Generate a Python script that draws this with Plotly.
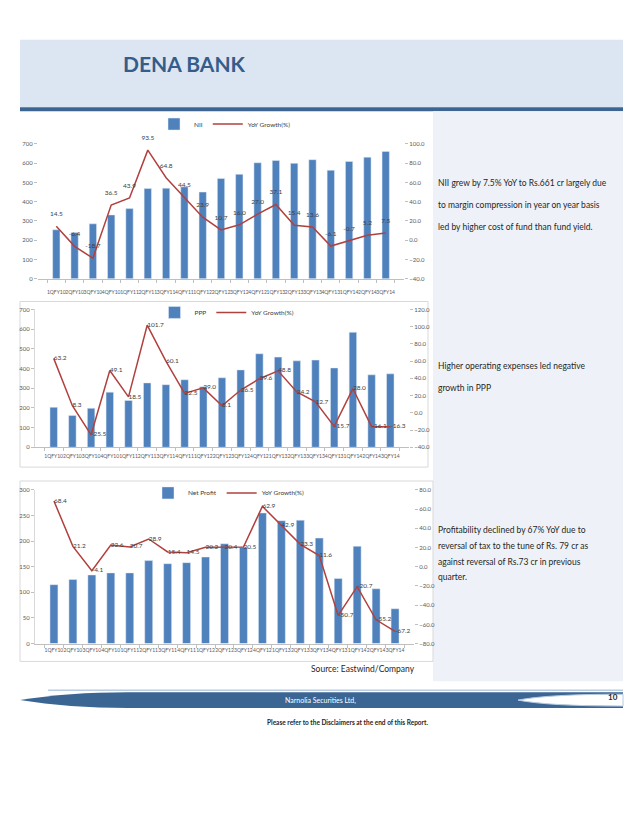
import plotly.graph_objects as go

W, H = 638, 826


def fx(x):
    return x / W


def fy(y):
    return 1 - y / H


quarters = ["1QFY10", "2QFY10", "3QFY10", "4QFY10", "1QFY11", "2QFY11", "3QFY11", "4QFY11",
            "1QFY12", "2QFY12", "3QFY12", "4QFY12", "1QFY13", "2QFY13", "3QFY13", "4QFY13",
            "1QFY14", "2QFY14", "3QFY14"]

nii = [254, 240, 285, 331, 364, 468, 470, 477, 450, 520, 542, 602, 614, 599, 618, 563, 609, 631, 661]
nii_yoy = [14.5, -6.4, -18.7, 36.5, 43.9, 93.5, 64.8, 44.5, 23.9, 10.7, 16.0, 27.0, 37.1, 15.4, 13.6,
           -6.1, -0.7, 5.2, 7.5]

ppp = [203, 162, 198, 280, 238, 327, 318, 343, 307, 353, 393, 475, 458, 439, 443, 403, 584, 368, 373]
ppp_yoy = [63.2, 8.3, -25.5, 49.1, 18.5, 101.7, 60.1, 22.5, 29.0, 8.1, 26.5, 39.6, 48.8, 24.2, 12.7,
           -15.7, 28.0, -16.1, -16.3]

net_profit = [115, 125, 134, 138, 138, 162, 156, 158, 169, 195, 188, 255, 240, 241, 206, 127, 190, 107, 68]
np_yoy = [68.4, 21.2, -4.1, 22.6, 20.7, 28.9, 15.4, 14.5, 20.2, 20.4, 20.5, 62.9, 42.9, 23.3, 11.6,
          -50.7, -20.7, -55.2, -67.2]

BAR = "#4f81bd"
LINE = "#b0413e"
CF = "Liberation Sans Narrow, Lato, sans-serif"
TF = "Lato, 'Open Sans', sans-serif"
LBL = dict(family=CF, size=6.5, color="#404040")

fig = go.Figure()

# ---- chart 1: NII
fig.add_trace(go.Bar(x=quarters, y=nii, name="NII", marker_color=BAR, width=0.4,
                     xaxis="x", yaxis="y", legend="legend"))
fig.add_trace(go.Scatter(x=quarters, y=nii_yoy, name="YoY Growth(%)", mode="lines+text",
                         line=dict(color=LINE, width=1.5), text=[f"{v:.1f}<br> " for v in nii_yoy],
                         textposition="top center", textfont=LBL, cliponaxis=False,
                         xaxis="x", yaxis="y2", legend="legend"))
# ---- chart 2: PPP
fig.add_trace(go.Bar(x=quarters, y=ppp, name="PPP", marker_color=BAR, width=0.4,
                     xaxis="x2", yaxis="y3", legend="legend2"))
fig.add_trace(go.Scatter(x=quarters, y=ppp_yoy, name="YoY Growth(%)", mode="lines+text",
                         line=dict(color=LINE, width=1.5), text=[f"{v:.1f}" for v in ppp_yoy],
                         textposition="middle right", textfont=LBL, cliponaxis=False,
                         xaxis="x2", yaxis="y4", legend="legend2"))
# ---- chart 3: Net Profit
fig.add_trace(go.Bar(x=quarters, y=net_profit, name="Net Profit", marker_color=BAR, width=0.42,
                     xaxis="x3", yaxis="y5", legend="legend3"))
fig.add_trace(go.Scatter(x=quarters, y=np_yoy, name="YoY Growth(%)", mode="lines+text",
                         line=dict(color=LINE, width=1.5), text=[f"{v:.1f}" for v in np_yoy],
                         textposition="middle right", textfont=LBL, cliponaxis=False,
                         xaxis="x3", yaxis="y6", legend="legend3"))

tickf = dict(family=CF, size=6, color="#595959")


def xax(dom, anchor, size, standoff):
    return dict(domain=dom, anchor=anchor, type="category",
                tickfont=dict(family=CF, size=size, color="#595959"),
                showline=True, linecolor="#bfbfbf", linewidth=1, ticks="outside", ticklen=3,
                tickcolor="#bfbfbf", tickson="boundaries", tickangle=0, showgrid=False,
                ticklabelstandoff=standoff, fixedrange=True)


def yl(dom, anchor, rng, dt, line=False):
    return dict(domain=dom, anchor=anchor, range=rng, dtick=dt, tickfont=tickf, showgrid=False,
                zeroline=False, ticks="outside", ticklen=3, tickcolor="#bfbfbf",
                showline=line, linecolor="#d9d9d9")


def yr(over, anchor, rng, dt):
    return dict(overlaying=over, anchor=anchor, side="right", range=rng, dtick=dt, tickformat=".1f",
                tickfont=tickf, showgrid=False, zeroline=False, ticks="outside", ticklen=3,
                tickcolor="#bfbfbf")


leg = dict(orientation="h", xanchor="center", yanchor="middle",
           font=dict(family=CF, size=6.5, color="#404040"),
           bgcolor="rgba(0,0,0,0)", itemwidth=30, tracegroupgap=0)

shapes = [
    # header band
    dict(type="rect", xref="paper", yref="paper", x0=fx(12), x1=fx(615), y0=fy(96), y1=fy(28),
         fillcolor="#dce6f2", line=dict(width=0), layer="below"),
    dict(type="rect", xref="paper", yref="paper", x0=fx(12), x1=fx(615), y0=fy(100), y1=fy(96),
         fillcolor="#3d6591", line=dict(width=0), layer="below"),
    # right panel
    dict(type="rect", xref="paper", yref="paper", x0=fx(425), x1=fx(615), y0=fy(675), y1=fy(100),
         fillcolor="#eef2f8", line=dict(width=0), layer="below"),
    # chart boxes
    dict(type="rect", xref="paper", yref="paper", x0=fx(12), x1=fx(420), y0=fy(459), y1=fy(292),
         fillcolor="rgba(0,0,0,0)", line=dict(color="#d9d9d9", width=1), layer="below"),
    dict(type="rect", xref="paper", yref="paper", x0=fx(12), x1=fx(425), y0=fy(655), y1=fy(473),
         fillcolor="rgba(0,0,0,0)", line=dict(color="#d9d9d9", width=1), layer="below"),
    # footer banner
    dict(type="line", xref="paper", yref="paper", x0=fx(40), x1=fx(615), y0=fy(684), y1=fy(684),
         line=dict(color="#b8cce4", width=1.5), layer="below"),
    dict(type="path", xref="paper", yref="paper",
         path=(f"M {fx(12)},{fy(694)} Q {fx(60)},{fy(686)} {fx(120)},{fy(686)} L {fx(615)},{fy(686)} "
               f"L {fx(615)},{fy(702)} L {fx(120)},{fy(702)} Q {fx(60)},{fy(702)} {fx(12)},{fy(694)} Z"),
         fillcolor="#3b6593", line=dict(width=0), layer="below"),
    dict(type="path", xref="paper", yref="paper",
         path=(f"M {fx(510)},{fy(694)} Q {fx(540)},{fy(688)} {fx(615)},{fy(688)} L {fx(615)},{fy(700)} "
               f"Q {fx(540)},{fy(700)} {fx(510)},{fy(694)} Z"),
         fillcolor="white", line=dict(color="#b8cce4", width=1), layer="below"),
]


def note(x, y, text, size=8.5, color="#262626", anchor="left", family=TF, bold=False):
    return dict(xref="paper", yref="paper", x=fx(x), y=fy(y), text=(f"<b>{text}</b>" if bold else text),
                showarrow=False, xanchor=anchor, yanchor="middle",
                font=dict(family=family, size=size, color=color))


annotations = [
    note(113, 52, "DENA BANK", size=21, color="#345d8b", bold=True),
    note(428, 172, "NII grew by 7.5% YoY to Rs.661 cr largely due"),
    note(428, 195, "to margin compression in year on year basis"),
    note(428, 217, "led by higher cost of fund than fund yield."),
    note(428, 357, "Higher operating expenses led negative"),
    note(428, 379, "growth in PPP"),
    note(428, 522, "Profitability declined by 67% YoY due to"),
    note(428, 539, "reversal of tax to the tune of Rs. 79 cr as"),
    note(428, 555, "against reversal of Rs.73 cr in previous"),
    note(428, 570, "quarter."),
    note(355, 663, "Source: Eastwind/Company", anchor="center"),
    note(312, 694, "Narnolia Securities Ltd,", size=7, color="white", anchor="center"),
    note(605, 691, "10", size=8, color="#262626", anchor="center", bold=True),
    note(339, 717, "Please refer to the Disclaimers at the end of this Report.", size=6.5,
         color="#262626", anchor="center", bold=True),
]

fig.update_layout(
    width=W, height=H, margin=dict(l=0, r=0, t=0, b=0), autosize=False,
    paper_bgcolor="white", plot_bgcolor="rgba(0,0,0,0)", bargap=0.6,
    xaxis=xax([fx(30), fx(396)], "y", 5, 8),
    yaxis=yl([fy(269), fy(133)], "x", [0, 700], 100),
    yaxis2=yr("y", "x", [-40, 100], 20),
    xaxis2=xax([fx(27), fx(401)], "y3", 5, 4),
    yaxis3=yl([fy(439), fy(300)], "x2", [0, 700], 100, line=True),
    yaxis4=yr("y3", "x2", [-40, 120], 20),
    xaxis3=xax([fx(27), fx(406)], "y5", 5, 1),
    yaxis5=yl([fy(637), fy(482)], "x3", [0, 300], 50, line=True),
    yaxis6=yr("y5", "x3", [-80, 80], 20),
    legend=dict(leg, x=fx(217), y=fy(113)),
    legend2=dict(leg, x=fx(219), y=fy(303)),
    legend3=dict(leg, x=fx(221), y=fy(485)),
    shapes=shapes, annotations=annotations, showlegend=True,
)

fig.write_html("out.html")
